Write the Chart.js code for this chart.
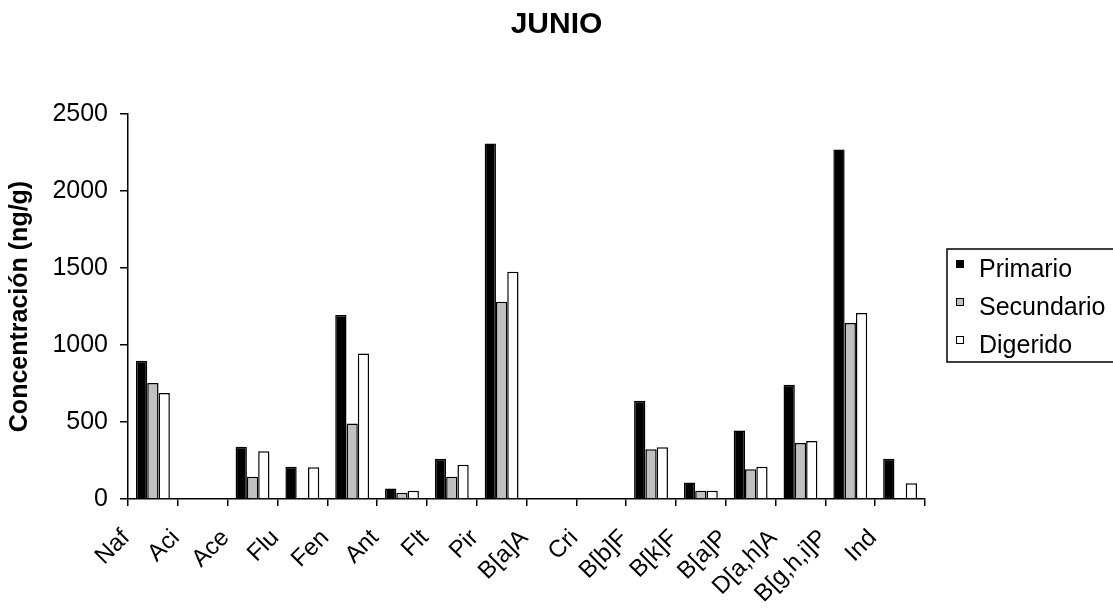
<!DOCTYPE html>
<html lang="es">
<head>
<meta charset="UTF-8">
<title>JUNIO</title>
<script src="https://cdn.jsdelivr.net/npm/chart.js@4.4.1/dist/chart.umd.min.js"></script>
<style>
    html, body { margin: 0; padding: 0; background: #fff; overflow: hidden; }
    #grafico { display: block; }
</style>
</head>
<body>
<canvas id="grafico" width="1113" height="615"></canvas>
<script>
// Compuestos (eje X)
const compuestos = ["Naf", "Aci", "Ace", "Flu", "Fen", "Ant", "Flt", "Pir", "B[a]A", "Cri", "B[b]F", "B[k]F", "B[a]P", "D[a,h]A", "B[g,h,i]P", "Ind"];

// Concentraciones (ng/g) por tipo de lodo
const primario   = [897, 0, 340, 210, 1195, 68, 262, 2309, 0, 0, 638, 107, 444, 742, 2270, 262];
const secundario = [753, 0, 144, 0, 491, 40, 144, 1281, 0, 0, 323, 53, 193, 364, 1143, 0];
const digerido   = [688, 0, 310, 206, 944, 53, 222, 1475, 0, 0, 336, 53, 209, 377, 1208, 102];

// Marcas del eje Y
const marcasY = [0, 500, 1000, 1500, 2000, 2500];

const titulo = "JUNIO";
const fuente = '"Liberation Sans", Arial, sans-serif';

// Título centrado en todo el lienzo y leyenda con recuadro, como en Excel
const tituloYLeyenda = {
    id: "tituloYLeyenda",
    afterDraw(chart) {
        const ctx = chart.ctx;
        ctx.save();

        // Título
        ctx.fillStyle = "#000";
        ctx.font = "bold 30px " + fuente;
        ctx.textAlign = "center";
        ctx.textBaseline = "middle";
        ctx.fillText(titulo, chart.width / 2, 25);

        // Recuadro de la leyenda
        ctx.strokeStyle = "#000";
        ctx.lineWidth = 1.5;
        ctx.strokeRect(947, 249, 200, 113);

        ctx.font = "25px " + fuente;
        ctx.textBaseline = "alphabetic";
        ctx.textAlign = "left";
        chart.data.datasets.forEach((ds, i) => {
            const base = 277 + i * 38;
            ctx.fillStyle = ds.backgroundColor;
            ctx.fillRect(956, base - 17, 8, 8);
            ctx.lineWidth = 1;
            ctx.strokeStyle = "#000";
            ctx.strokeRect(956.5, base - 16.5, 7, 7);
            ctx.fillStyle = "#000";
            ctx.fillText(ds.label, 979, base);
        });
        ctx.restore();
    }
};

document.addEventListener("DOMContentLoaded", () => {
    Chart.defaults.font.family = fuente;
    Chart.defaults.color = "#000";

    const ctx = document.getElementById("grafico").getContext("2d");
    new Chart(ctx, {
        type: "bar",
        data: {
            labels: compuestos,
            datasets: [
                { label: "Primario", data: primario, backgroundColor: "#000000", borderColor: "#000", borderWidth: 1.5 },
                { label: "Secundario", data: secundario, backgroundColor: "#C0C0C0", borderColor: "#000", borderWidth: 1.5 },
                { label: "Digerido", data: digerido, backgroundColor: "#FFFFFF", borderColor: "#000", borderWidth: 1.5 }
            ]
        },
        options: {
            responsive: false,
            animation: false,
            devicePixelRatio: 1,
            layout: { padding: { left: 0, right: 188, top: 114, bottom: 0 } },
            datasets: {
                bar: { categoryPercentage: 0.68, barPercentage: 1.0 }
            },
            plugins: {
                legend: { display: false },
                tooltip: { enabled: false },
                title: { display: false }
            },
            scales: {
                x: {
                    grid: { offset: true, drawOnChartArea: false, drawTicks: true, tickLength: 7, color: "#000", lineWidth: 1.5 },
                    border: { display: true, color: "#000", width: 1.5 },
                    ticks: {
                        autoSkip: false,
                        minRotation: 45,
                        maxRotation: 45,
                        labelOffset: -27,
                        padding: 18,
                        color: "#000",
                        font: { size: 24 }
                    },
                    afterFit(scale) { scale.height = 116; }
                },
                y: {
                    min: 0,
                    max: 2500,
                    afterBuildTicks(scale) {
                        scale.ticks = marcasY.map(v => ({ value: v }));
                    },
                    grid: { drawOnChartArea: false, drawTicks: true, tickLength: 8, color: "#000", lineWidth: 1.5 },
                    border: { display: true, color: "#000", width: 1.5 },
                    ticks: {
                        padding: 12,
                        color: "#000",
                        font: { size: 25 },
                        callback: (valor) => String(valor)
                    },
                    title: {
                        display: true,
                        text: "Concentración (ng/g)",
                        color: "#000",
                        font: { size: 25, weight: "bold" },
                        padding: { top: 5, bottom: 0 }
                    },
                    afterFit(scale) { scale.width = 128; }
                }
            }
        },
        plugins: [tituloYLeyenda]
    });
});
</script>
</body>
</html>
